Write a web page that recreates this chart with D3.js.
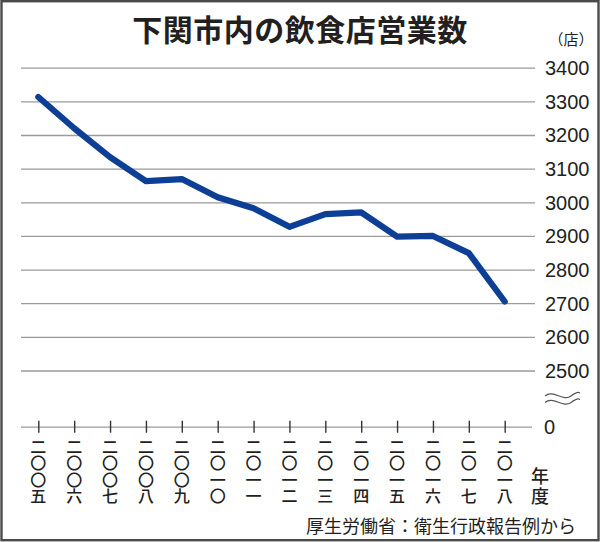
<!DOCTYPE html>
<html><head><meta charset="utf-8">
<script src="https://cdn.jsdelivr.net/npm/d3@7"></script>
<style>
html,body{margin:0;padding:0;background:#fff;}
svg{display:block;}
</style></head>
<body>
<svg id="c" width="600" height="542"></svg>
<script>
const years = [2005,2006,2007,2008,2009,2010,2011,2012,2013,2014,2015,2016,2017,2018];
const yearLabels = ["二〇〇五","二〇〇六","二〇〇七","二〇〇八","二〇〇九","二〇一〇","二〇一一","二〇一二","二〇一三","二〇一四","二〇一五","二〇一六","二〇一七","二〇一八"];
const counts = [3313,3220,3134,3063,3069,3015,2982,2927,2965,2970,2898,2900,2849,2705];
const yTicks = [0,2500,2600,2700,2800,2900,3000,3100,3200,3300,3400];
const title = "下関市内の飲食店営業数";
const unitLabel = "（店）";
const yearUnit = ["年","度"];
const source = "厚生労働省：衛生行政報告例から";

const svg = d3.select("#c");
const ink = "#231f20";
const cjk = "'Noto Sans CJK JP','Noto Sans CJK SC',sans-serif";

// frame
svg.append("rect").attr("x",1.5).attr("y",1.2).attr("width",597).attr("height",539)
  .attr("fill","#fff").attr("stroke","#4a4a4a").attr("stroke-width",2.4);

// title
svg.append("text").attr("x",300).attr("y",41).attr("text-anchor","middle")
  .attr("font-family",cjk).attr("font-weight","bold").attr("font-size",30)
  .attr("letter-spacing",0.5).attr("fill",ink).text(title);

svg.append("text").attr("x",571).attr("y",45).attr("text-anchor","middle")
  .attr("font-family",cjk).attr("font-size",15).attr("fill",ink).text(unitLabel);

// scales
const x = d3.scalePoint().domain(years).range([38.3,504.7]).padding(0);
const y = d3.scaleLinear().domain([0,2500,3400]).range([426.7,370.5,67.7]);

// y axis with gridlines
const gridLeft = 21, axisX = 535;
const yAxis = d3.axisRight(y).tickValues(yTicks).tickSize(-(axisX-gridLeft)).tickPadding(10)
  .tickFormat(d3.format("d"));
const gy = svg.append("g").attr("transform",`translate(${axisX},0)`).call(yAxis);
gy.select(".domain").remove();
gy.selectAll(".tick line").attr("stroke","#9a9a9a").attr("stroke-width",1.3);
gy.selectAll(".tick").filter(d=>d===0).select("line").attr("x1",-3);
gy.selectAll(".tick text").attr("font-family","'Liberation Sans',Arial,sans-serif")
  .attr("font-size",20).attr("fill",ink).attr("dy","0.34em");
gy.selectAll(".tick").filter(d=>d===0).select("text").attr("x",9);

// x axis ticks
const xAxis = d3.axisBottom(x).tickSize(0).tickFormat("");
const gx = svg.append("g").attr("transform",`translate(0,${y(0)})`).call(xAxis);
gx.select(".domain").remove();
gx.selectAll(".tick line").attr("y1",-6).attr("y2",6).attr("stroke","#333").attr("stroke-width",1.4);

// vertical year labels, one character per line
const lab = svg.append("g").attr("font-family",cjk).attr("font-size",16).attr("fill",ink)
  .attr("font-weight","500").attr("text-anchor","middle");
years.forEach((yr,i)=>{
  Array.from(yearLabels[i]).forEach((ch,j)=>{
    lab.append("text").attr("x",x(yr)).attr("y",447 + j*16.5).attr("dy","0.36em").text(ch);
  });
});
yearUnit.forEach((ch,j)=>{
  svg.append("text").attr("x",540).attr("y",477+j*19.5).attr("dy","0.36em")
    .attr("text-anchor","middle").attr("font-family",cjk).attr("font-size",18)
    .attr("font-weight","500").attr("fill",ink).text(ch);
});

// break mark
[396,402.5].forEach(cy=>{
  svg.append("path").attr("d",`M545,${cy} C553,${cy-7} 563,${cy+6} 571,${cy} S 579,${cy-3} 580,${cy-3}`)
    .attr("fill","none").attr("stroke","#555").attr("stroke-width",1.2);
});

// line
const line = d3.line().x((d,i)=>x(years[i])).y(d=>y(d));
svg.append("path").datum(counts).attr("d",line).attr("fill","none")
  .attr("stroke","#0e3f96").attr("stroke-width",6.2)
  .attr("stroke-linejoin","round").attr("stroke-linecap","round");

// source
svg.append("text").attr("x",576).attr("y",527).attr("dy","0.35em").attr("text-anchor","end")
  .attr("font-family",cjk).attr("font-size",18).attr("fill",ink).text(source);
</script>
</body></html>
